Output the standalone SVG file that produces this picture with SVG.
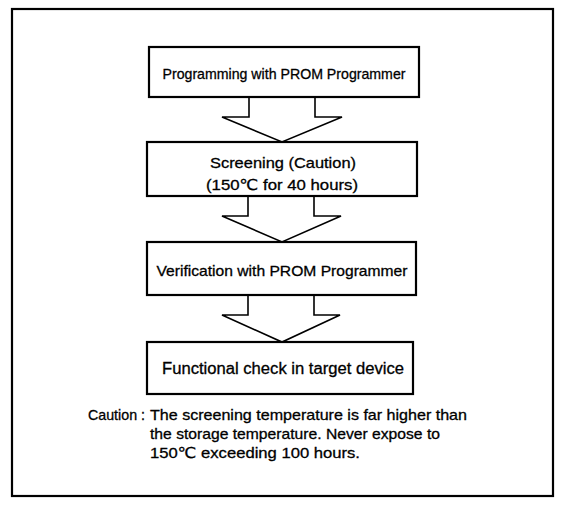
<svg xmlns="http://www.w3.org/2000/svg" width="561" height="505" viewBox="0 0 561 505">
<style>
.box{fill:#fff;stroke:#000;stroke-width:2.2}
.arr{fill:#fff;stroke:#000;stroke-width:1.6;stroke-linejoin:miter}
.t{font-family:"Liberation Sans","DejaVu Sans",Arial,sans-serif;fill:#000;stroke:#000;stroke-width:0.3}
.c{text-anchor:middle}
</style>
<rect x="0" y="0" width="561" height="505" fill="#fff"/>
<rect x="12" y="9" width="541" height="487" fill="none" stroke="#000" stroke-width="2.2"/>
<g id="connectors">
<path class="arr" d="M249,97 V117 H222 L282,142 L342,117 H315 V97"/>
<path class="arr" d="M248,196 V216 H222 L282,242 L341,216 H314 V196"/>
<path class="arr" d="M248,295 V315 H222 L282,342 L340,315 H314 V295"/>
</g>
<g id="n1">
<rect class="box" x="149" y="47" width="270" height="50"/>
<text class="t c" x="284" y="79" font-size="15" textLength="243" lengthAdjust="spacingAndGlyphs">Programming with PROM Programmer</text>
</g>
<g id="n2">
<rect class="box" x="147" y="142" width="270" height="54"/>
<text class="t c" x="283" y="168" font-size="15" textLength="146" lengthAdjust="spacingAndGlyphs">Screening (Caution)</text>
<text class="t c" x="282" y="190" font-size="15" textLength="152" lengthAdjust="spacingAndGlyphs">(150℃ for 40 hours)</text>
</g>
<g id="n3">
<rect class="box" x="147" y="242" width="269" height="53"/>
<text class="t c" x="282" y="276" font-size="15" textLength="251" lengthAdjust="spacingAndGlyphs">Verification with PROM Programmer</text>
</g>
<g id="n4">
<rect class="box" x="147" y="342" width="266" height="52"/>
<text class="t c" x="283" y="374" font-size="16" textLength="242" lengthAdjust="spacingAndGlyphs">Functional check in target device</text>
</g>
<g id="caution">
<text class="t" x="88" y="420" font-size="15" textLength="57" lengthAdjust="spacingAndGlyphs">Caution :</text>
<text class="t" x="150" y="420" font-size="15" textLength="317" lengthAdjust="spacingAndGlyphs">The screening temperature is far higher than</text>
<text class="t" x="150" y="439" font-size="15" textLength="290" lengthAdjust="spacingAndGlyphs">the storage temperature. Never expose to</text>
<text class="t" x="150" y="458" font-size="15" textLength="210" lengthAdjust="spacingAndGlyphs">150℃ exceeding 100 hours.</text>
</g>
</svg>
